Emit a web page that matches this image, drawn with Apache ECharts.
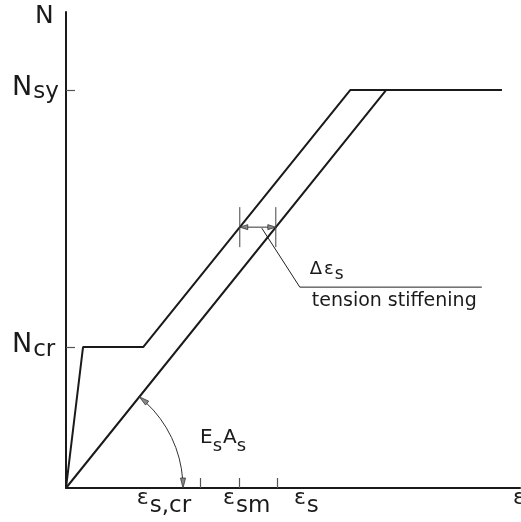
<!DOCTYPE html>
<html>
<head>
<meta charset="utf-8">
<script src="https://cdn.jsdelivr.net/npm/echarts@6/dist/echarts.min.js"></script>
<style>
  html, body { margin: 0; padding: 0; background: #fff; }
  #chart { width: 521px; height: 522px; }
</style>
</head>
<body>
<div id="chart"></div>
<script>
// Force–strain response of a reinforced concrete tie (schematic units 0..100)

// Tie with tension stiffening: uncracked, crack formation, stabilised cracking, yield
const memberStrain = [0, 3.75, 17, 62.6, 96];
const memberForce  = [0, 29.6, 29.6, 83.6, 83.6];

// Bare steel bar (stiffness E_s A_s) up to yield
const barStrain = [0, 70.5, 96];
const barForce  = [0, 83.6, 83.6];

// Marked levels on the axes
const forceTicks  = [29.6, 83.6];        // N_cr, N_sy
const strainTicks = [29.5, 38.1, 46.5];

// Axis labels: main symbol + subscript, anchored at an axis value
const forceLabels = [
  { value: 83.6, main: 'N', sub: 'sy' },
  { value: 29.6, main: 'N', sub: 'cr' }
];
const strainLabels = [
  { value: 15.6, main: 'ε', sub: 's,cr' },
  { value: 34.6, main: 'ε', sub: 'sm' },
  { value: 50.2, main: 'ε', sub: 's' }
];
const forceAxisName  = 'N';
const strainAxisName = 'ε';

// Tension-stiffening dimension is measured at this force level
const dimForce = 54.8;

const FONT = '"DejaVu Sans", "Liberation Sans", sans-serif';
const INK = '#1a1a1a';
const GREY = '#555';

const measureCtx = document.createElement('canvas').getContext('2d');
function textWidth(t, size) {
  measureCtx.font = size + 'px ' + FONT;
  return measureCtx.measureText(t).width;
}

// A text piece placed by its baseline
function piece(x, baseline, text, size) {
  return {
    type: 'text', x: x, y: baseline - 0.35 * size,
    style: { text: text, font: size + 'px ' + FONT, fill: INK, align: 'left', verticalAlign: 'middle' }
  };
}

// Symbol with a lowered subscript
function subText(x, baseline, main, mainSize, sub, subSize, drop, gap) {
  const out = [piece(x, baseline, main, mainSize)];
  if (sub) out.push(piece(x + textWidth(main, mainSize) + gap, baseline + drop, sub, subSize));
  return out;
}

function strainOnLine(xs, ys, f) {
  for (let i = 0; i < xs.length - 1; i++) {
    if (ys[i + 1] > ys[i] && f >= ys[i] && f <= ys[i + 1]) {
      return xs[i] + (f - ys[i]) / (ys[i + 1] - ys[i]) * (xs[i + 1] - xs[i]);
    }
  }
  return null;
}

function arrowHead(tip, dir, len, half) {
  const n = [-dir[1], dir[0]];
  return {
    type: 'polygon',
    shape: { points: [
      tip,
      [tip[0] - dir[0] * len + n[0] * half, tip[1] - dir[1] * len + n[1] * half],
      [tip[0] - dir[0] * len - n[0] * half, tip[1] - dir[1] * len - n[1] * half]
    ] },
    style: { fill: '#888', stroke: '#333', lineWidth: 0.8 }
  };
}

function renderLabels(params, api) {
  const children = [];
  const origin = api.coord([0, 0]);
  const top = api.coord([0, 100]);
  const right = api.coord([100, 0]);

  // force axis
  children.push(piece(origin[0] - 31, top[1] + 13, forceAxisName, 25));
  forceLabels.forEach(function (l) {
    const p = api.coord([0, l.value]);
    children.push.apply(children, subText(p[0] - 54, p[1] + 7.5, l.main, 27, l.sub, 23, 3, 1));
  });

  // strain axis
  strainLabels.forEach(function (l) {
    const p = api.coord([l.value, 0]);
    children.push.apply(children, subText(p[0], p[1] + 17.5, l.main, 22, l.sub, 23, 9, 1));
  });
  children.push(piece(right[0] - 7, origin[1] + 17.5, strainAxisName, 22));

  // stiffness label E_s A_s
  const e = subText(origin[0] + 134, origin[1] - 43, 'E', 20, 's', 18, 8, 0);
  const ex = origin[0] + 134 + textWidth('E', 20) + textWidth('s', 18) + 1;
  children.push.apply(children, e);
  children.push.apply(children, subText(ex, origin[1] - 43, 'A', 20, 's', 18, 8, 0));

  // tension stiffening annotation
  const knee = api.coord([51.5, 42.2]);
  children.push(piece(knee[0] + 10, knee[1] - 11, 'Δ', 18));
  children.push.apply(children, subText(knee[0] + 10 + textWidth('Δ', 18) + 2, knee[1] - 11, 'ε', 18, 's', 17, 4, 1));
  children.push(piece(knee[0] + 12, knee[1] + 21, 'tension stiffening', 19));

  return { type: 'group', children: children };
}

function renderAnnotations(params, api) {
  const children = [];
  const origin = api.coord([0, 0]);

  // stiffness arc with arrows, centred on the origin
  const yieldPt = api.coord([barStrain[1], barForce[1]]);
  const theta = Math.atan2(yieldPt[1] - origin[1], yieldPt[0] - origin[0]);
  const r = 117;
  children.push({
    type: 'arc',
    shape: { cx: origin[0], cy: origin[1], r: r, startAngle: theta + 0.07, endAngle: -0.07, clockwise: true },
    style: { stroke: '#333', lineWidth: 1, fill: null }
  });
  const tipA = [origin[0] + r * Math.cos(theta), origin[1] + r * Math.sin(theta)];
  children.push(arrowHead(tipA, [Math.sin(theta), -Math.cos(theta)], 10, 2.5));
  const tipB = [origin[0] + r, origin[1]];
  children.push(arrowHead(tipB, [0, 1], 10, 2.5));

  // tension stiffening dimension between the two branches
  const sm = strainOnLine(memberStrain, memberForce, dimForce);
  const ss = strainOnLine(barStrain, barForce, dimForce);
  const a = api.coord([sm, dimForce]);
  const b = api.coord([ss, dimForce]);
  [a, b].forEach(function (p) {
    children.push({ type: 'line', shape: { x1: p[0], y1: p[1] - 20, x2: p[0], y2: p[1] + 20 },
      style: { stroke: '#444', lineWidth: 1 } });
  });
  children.push({ type: 'line', shape: { x1: a[0] + 6, y1: a[1], x2: b[0] - 6, y2: b[1] },
    style: { stroke: '#333', lineWidth: 1 } });
  children.push(arrowHead(a, [-1, 0], 8, 2.5));
  children.push(arrowHead(b, [1, 0], 8, 2.5));

  // leader to the annotation text
  const knee = api.coord([51.5, 42.2]);
  const end = api.coord([91.6, 42.2]);
  children.push({
    type: 'polyline',
    shape: { points: [[b[0] - 14, b[1] + 1], knee, end] },
    style: { stroke: '#222', lineWidth: 1, fill: null }
  });

  return { type: 'group', children: children };
}

const chart = echarts.init(document.getElementById('chart'), null, { renderer: 'canvas' });
chart.setOption({
  animation: false,
  backgroundColor: '#fff',
  grid: { left: 66, right: 1, top: 12, bottom: 34, containLabel: false },
  xAxis: {
    type: 'value', min: 0, max: 100,
    axisLine: { show: true, onZero: false, lineStyle: { color: INK, width: 2 } },
    axisTick: { show: true, inside: true, length: 10, customValues: strainTicks, lineStyle: { color: GREY, width: 1.2 } },
    axisLabel: { show: false },
    splitLine: { show: false }
  },
  yAxis: {
    type: 'value', min: 0, max: 100,
    axisLine: { show: true, onZero: false, lineStyle: { color: INK, width: 2 } },
    axisTick: { show: true, inside: true, length: 9, customValues: forceTicks, lineStyle: { color: GREY, width: 1.2 } },
    axisLabel: { show: false },
    splitLine: { show: false }
  },
  series: [
    {
      name: 'tie', type: 'line', symbol: 'none', z: 3,
      data: memberStrain.map(function (x, i) { return [x, memberForce[i]]; }),
      lineStyle: { color: INK, width: 2 }
    },
    {
      name: 'bar', type: 'line', symbol: 'none', z: 3,
      data: barStrain.map(function (x, i) { return [x, barForce[i]]; }),
      lineStyle: { color: INK, width: 2 }
    },
    { type: 'custom', renderItem: renderAnnotations, data: [[0, 0]], z: 4, silent: true, clip: false },
    { type: 'custom', renderItem: renderLabels, data: [[0, 0]], z: 5, silent: true, clip: false }
  ]
});
</script>
</body>
</html>
